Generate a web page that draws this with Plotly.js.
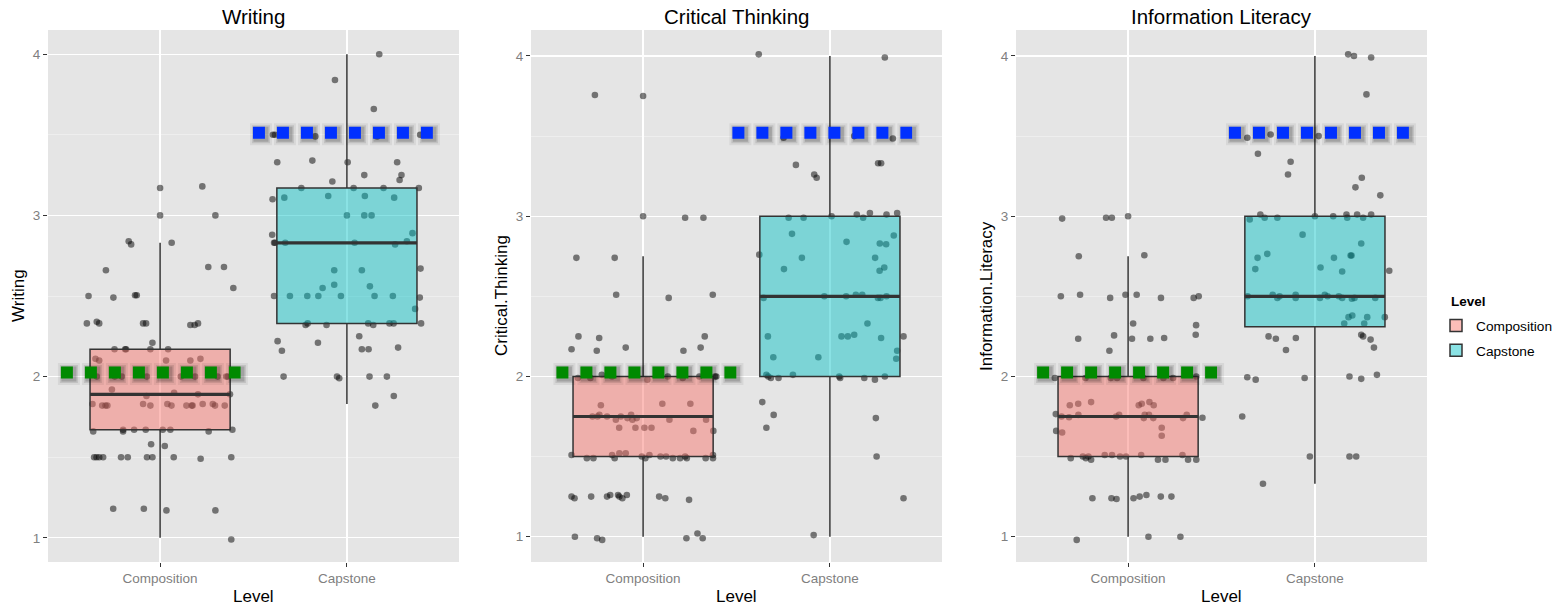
<!DOCTYPE html>
<html><head><meta charset="utf-8">
<script src="https://cdn.plot.ly/plotly-3.0.1.min.js"></script>
<style>html,body{margin:0;padding:0;background:#fff}#chart{width:1558px;height:606px}</style>
</head><body><div id="chart"></div>
<script>
// ---------- data ----------
const categories = ['Composition', 'Capstone'];
const catPos = [1, 2];
const panelTitles = ['Writing', 'Critical Thinking', 'Information Literacy'];
const yTitles = ['Writing', 'Critical.Thinking', 'Information.Literacy'];
const legendTitle = 'Level';
const xTitle = 'Level';

// box statistics per panel: [Composition, Capstone]
const boxQ1     = [[1.67, 2.33], [1.5, 2.0], [1.5, 2.31]];
const boxMedian = [[1.89, 2.83], [1.75, 2.5], [1.75, 2.5]];
const boxQ3     = [[2.17, 3.17], [2.0, 3.0], [2.0, 3.0]];
const boxLow    = [[1.0, 1.83], [1.0, 1.0], [1.0, 1.33]];
const boxHigh   = [[2.83, 4.0], [2.75, 4.0], [2.75, 4.0]];

// highlighted reference levels per panel
const greenLevel = [2.025, 2.024, 2.024];
const greenFrom  = [0.469, 0.536, 0.513];
const greenTo    = [1.431, 1.499, 1.476];
const blueLevel  = [3.512, 3.52, 3.52];
const blueFrom   = [1.497, 1.478, 1.54];
const blueTo     = [2.46, 2.44, 2.503];

// jittered observations (value, horizontal jitter)
const writingCompY = [3.17,3.18,3.0,3.0,2.84,2.82,2.83,2.66,2.68,2.68,2.55,2.5,2.49,2.505,2.505,2.33,2.34,2.33,2.33,2.33,2.32,2.32,2.33,2.21,2.17,2.17,2.17,2.17,2.17,2.11,2.1,2.1,2.1,2.11,2.0,2.0,2.0,2.0,2.0,2.0,2.0,2.0,2.0,1.92,1.9,1.89,1.88,1.89,1.83,1.82,1.82,1.82,1.83,1.82,1.83,1.82,1.82,1.82,1.82,1.83,1.83,1.82,1.82,1.66,1.67,1.66,1.67,1.67,1.67,1.67,1.66,1.67,1.58,1.57,1.5,1.5,1.5,1.5,1.5,1.5,1.5,1.5,1.5,1.49,1.5,1.18,1.18,1.17,1.17,0.99];
const writingCompJit = [0,0.226,0,0.296,-0.168,-0.155,0.062,-0.29,0.258,0.342,0.392,-0.383,-0.25,-0.134,-0.125,-0.392,-0.339,-0.326,-0.091,-0.075,0.162,0.185,0.203,-0.041,-0.244,-0.187,-0.182,-0.052,0.043,-0.346,-0.326,0.032,0.162,0.216,-0.339,-0.243,-0.205,-0.071,0.111,0.187,0.308,0.354,0.362,-0.258,0.075,0.203,-0.073,0.374,-0.362,-0.31,-0.292,-0.282,-0.091,-0.052,0.039,0.061,0.141,0.169,0.174,0.228,0.282,0.294,0.346,-0.358,-0.198,-0.198,-0.139,-0.077,0.014,0.055,0.26,0.387,-0.048,0.025,-0.353,-0.34,-0.326,-0.305,-0.209,-0.173,-0.07,-0.041,0.073,0.217,0.381,-0.251,-0.087,0.034,0.296,0.381];
const writingCapY = [4.0,3.84,3.66,3.5,3.5,3.49,3.49,3.5,3.33,3.34,3.33,3.33,3.25,3.25,3.21,3.22,3.17,3.17,3.17,3.17,3.1,3.11,3.12,3.12,3.11,3.0,3.0,3.0,2.88,2.89,2.83,2.83,2.83,2.83,2.82,2.84,2.66,2.66,2.67,2.55,2.57,2.56,2.5,2.5,2.5,2.5,2.5,2.5,2.5,2.49,2.42,2.32,2.33,2.32,2.33,2.32,2.33,2.33,2.33,2.25,2.22,2.21,2.16,2.17,2.17,2.18,2.0,2.0,1.99,2.0,2.0,1.88,1.82];
const writingCapJit = [0.173,-0.064,0.144,-0.396,-0.385,-0.169,0.162,0.392,-0.373,-0.185,0.004,0.269,0.093,0.292,-0.078,0.282,-0.244,0.036,0.196,0.385,-0.398,-0.335,-0.1,0.096,0.253,0,0.093,0.132,-0.4,0.351,-0.39,-0.385,-0.33,0.041,0.258,0.321,-0.068,0.08,0.394,-0.13,-0.068,0.123,-0.39,-0.305,-0.212,-0.153,-0.032,0.148,0.246,0.39,0.365,-0.221,-0.21,-0.109,0.114,0.141,0.228,0.25,0.397,0.066,-0.371,-0.155,-0.348,0.08,0.116,0.274,-0.339,-0.053,-0.041,0.121,0.214,0.251,0.152];

const criticalCompY = [3.756,3.75,3.0,2.99,2.99,2.74,2.74,2.51,2.49,2.51,2.25,2.24,2.25,2.17,2.16,2.18,2.16,2.18,1.99,1.99,2.01,2.0,1.98,2.0,1.99,2.0,2.0,2.0,1.82,1.83,1.83,1.75,1.75,1.76,1.75,1.73,1.75,1.74,1.76,1.73,1.74,1.73,1.73,1.68,1.68,1.68,1.68,1.66,1.66,1.51,1.49,1.49,1.51,1.49,1.52,1.52,1.5,1.49,1.51,1.5,1.5,1.49,1.49,1.5,1.49,1.49,1.49,1.51,1.25,1.24,1.25,1.25,1.26,1.26,1.25,1.24,1.26,1.25,1.24,1.23,1.0,0.99,0.98,0.99,1.02,0.99];
const criticalCompJit = [-0.258,0,0,0.225,0.323,-0.357,-0.152,-0.144,0.137,0.373,-0.346,-0.235,0.33,-0.383,-0.248,-0.093,0.216,0.308,-0.349,-0.282,-0.221,-0.166,0.023,0.132,0.212,0.301,0.385,0.392,-0.226,0.103,0.253,-0.271,-0.244,-0.234,-0.193,-0.146,-0.119,-0.084,-0.064,-0.057,-0.034,0.141,0.337,-0.128,-0.041,0.007,0.045,0.269,0.376,-0.383,-0.301,-0.266,-0.166,-0.152,-0.127,-0.093,-0.007,0.012,0.034,0.093,0.123,0.159,0.198,0.225,0.234,0.335,0.374,0.374,-0.383,-0.367,-0.278,-0.193,-0.176,-0.134,-0.127,-0.111,-0.087,0.086,0.119,0.246,-0.365,-0.246,-0.219,0.232,0.291,0.319];
const criticalCapY = [4.01,3.99,3.49,3.5,3.485,3.32,3.26,3.24,3.33,3.33,2.99,2.99,3.0,3.01,2.99,3.02,3.01,3.02,2.89,2.84,2.83,2.825,2.88,2.76,2.74,2.74,2.67,2.66,2.68,2.49,2.5,2.5,2.51,2.51,2.49,2.49,2.5,2.33,2.25,2.25,2.25,2.26,2.24,2.25,2.16,2.11,2.12,2.12,2.01,2.0,1.99,1.99,2.01,2.0,1.99,1.99,1.98,2.0,1.84,1.76,1.68,1.74,1.5,1.24,1.01];
const criticalCapJit = [-0.381,0.294,-0.248,0.13,0.337,-0.182,-0.084,-0.071,0.258,0.274,-0.221,-0.141,0.009,0.144,0.178,0.214,0.303,0.36,-0.203,0.089,0.267,0.301,0.342,-0.378,-0.15,0.242,-0.246,0.266,0.291,-0.355,-0.03,0.087,0.139,0.173,0.257,0.271,0.303,0.201,-0.332,0.062,0.096,0.13,0.274,0.394,0.36,0.355,-0.303,-0.062,-0.34,-0.33,-0.316,-0.275,-0.198,0.05,0.055,0.184,0.241,0.294,-0.362,-0.301,-0.34,0.246,0.25,0.394,-0.087];

const infoCompY = [2.985,2.99,2.99,3.0,2.75,2.756,2.5,2.51,2.49,2.51,2.51,2.49,2.49,2.5,2.33,2.32,2.26,2.235,2.256,2.235,2.235,2.24,2.16,1.99,1.99,1.99,1.99,1.99,1.99,1.99,2.0,1.82,1.83,1.84,1.82,1.83,1.84,1.82,1.765,1.75,1.745,1.76,1.75,1.76,1.74,1.76,1.76,1.74,1.74,1.76,1.742,1.68,1.63,1.66,1.65,1.49,1.5,1.49,1.5,1.48,1.51,1.51,1.5,1.5,1.51,1.48,1.48,1.51,1.48,1.48,1.24,1.24,1.235,1.24,1.25,1.26,1.25,1.25,0.98,1.0,1.0];
const infoCompJit = [-0.353,-0.118,-0.087,0,-0.264,0.087,-0.36,-0.257,-0.096,-0.014,0.046,0.176,0.351,0.378,0.027,0.364,0.362,-0.267,-0.075,0.021,0.119,0.193,-0.1,-0.392,-0.228,-0.093,-0.059,0.082,0.189,0.241,0.365,-0.312,-0.267,-0.198,0.057,0.073,0.114,0.137,-0.387,-0.356,-0.316,-0.266,-0.064,-0.048,0.084,0.089,0.112,0.135,0.294,0.314,0.398,0.18,0.18,-0.385,-0.353,-0.307,-0.242,-0.226,-0.212,-0.198,-0.125,-0.086,-0.043,-0.011,0.07,0.16,0.2,0.291,0.321,0.365,-0.191,-0.089,-0.062,0.029,0.062,0.098,0.175,0.232,-0.275,0.109,0.28];
const infoCapY = [4.01,4.0,3.99,3.76,3.49,3.51,3.5,3.39,3.34,3.26,3.24,3.18,3.13,2.98,3.01,2.99,2.99,3.0,3.0,3.01,2.99,3.01,2.99,3.01,2.885,2.83,2.74,2.765,2.74,2.755,2.755,2.67,2.68,2.655,2.66,2.5,2.51,2.49,2.5,2.51,2.49,2.49,2.51,2.5,2.5,2.49,2.485,2.49,2.49,2.33,2.37,2.38,2.33,2.37,2.37,2.25,2.235,2.24,2.165,2.26,2.25,2.23,2.18,1.995,1.98,1.99,2.0,1.985,2.01,1.75,1.5,1.5,1.5,1.33];
const infoCapJit = [0.178,0.209,0.301,0.276,-0.362,-0.237,0.02,-0.305,-0.13,-0.144,0.251,0.217,0.35,-0.349,-0.292,-0.269,-0.201,0,0.098,0.169,0.173,0.226,0.258,0.301,-0.066,0.248,-0.307,-0.255,0.102,0.191,0.196,-0.319,0.03,0.146,0.398,-0.36,-0.226,-0.201,-0.189,-0.103,-0.103,0.027,0.053,0.068,0.128,0.146,0.198,0.212,0.323,0.157,0.18,0.2,0.264,0.28,0.374,-0.248,-0.209,-0.102,-0.155,0.248,0.258,0.298,0.316,-0.362,-0.317,-0.055,0.185,0.248,0.332,-0.389,-0.027,0.185,0.221,-0.278];

// ---------- styling / layout ----------
const W = 1558, H = 606, TOP = 30, BOT = 562;
const FONT = 'Liberation Sans, Arial, Helvetica, sans-serif';
const boxFill = ['rgba(248,118,109,0.48)', 'rgba(0,191,196,0.46)'];
const keyFill = ['#F8766D', '#00BFC4'];
const xDomPx = [[48, 459], [531, 942], [1016, 1427]];
const xRange = [0.4, 2.6];
const yRanges = [[0.85, 4.15], [0.842, 4.162], [0.842, 4.162]];
const BOX_W = 0.75;
const points = [
  [[writingCompY, writingCompJit], [writingCapY, writingCapJit]],
  [[criticalCompY, criticalCompJit], [criticalCapY, criticalCapJit]],
  [[infoCompY, infoCompJit], [infoCapY, infoCapJit]]
];

const traces = [];
const layout = {
  width: W, height: H,
  margin: {l: 0, r: 0, t: 0, b: 0},
  paper_bgcolor: '#FFFFFF', plot_bgcolor: '#E5E5E5',
  font: {family: FONT, color: '#000'},
  showlegend: true,
  legend: {x: 1436 / W, xanchor: 'left', y: 1 - 310 / H, yanchor: 'top',
           font: {size: 13.7, family: FONT, color: '#000'}, bgcolor: 'rgba(0,0,0,0)',
           traceorder: 'grouped', tracegroupgap: 4, itemwidth: 30},
  annotations: [],
  hovermode: false
};

function dashLine(x0, x1, y, color, width, dash, xa, ya) {
  traces.push({type: 'scatter', mode: 'lines', x: [x0, x1], y: [y, y],
    xaxis: xa, yaxis: ya, showlegend: false, hoverinfo: 'skip',
    line: {color: color, width: width, dash: dash}});
}

for (let p = 0; p < 3; p++) {
  const sfx = p === 0 ? '' : String(p + 1);
  const xa = 'x' + sfx, ya = 'y' + sfx;
  const oxa = 'x' + (p + 4), oya = 'y' + (p + 4);
  const dom = [xDomPx[p][0] / W, xDomPx[p][1] / W];
  const yDom = [1 - BOT / H, 1 - TOP / H];
  const yr = yRanges[p];
  const xPerPx = (xRange[1] - xRange[0]) / (xDomPx[p][1] - xDomPx[p][0]);
  const yPerPx = (yr[1] - yr[0]) / (BOT - TOP);

  layout['xaxis' + sfx] = {domain: dom, range: xRange, anchor: ya,
    tickmode: 'array', tickvals: catPos, ticktext: categories,
    showgrid: true, gridcolor: '#FFFFFF', gridwidth: 1.2, zeroline: false, showline: false,
    ticks: 'outside', ticklen: 4, tickwidth: 1, tickcolor: '#333333',
    tickfont: {size: 13.5, color: '#7F7F7F', family: FONT}, fixedrange: true};
  layout['yaxis' + sfx] = {domain: yDom, range: yr, anchor: xa,
    tickmode: 'linear', tick0: 0, dtick: 1,
    showgrid: true, gridcolor: '#FFFFFF', gridwidth: 1.2, zeroline: false, showline: false,
    minor: {dtick: 0.5, tick0: 0.5, showgrid: true, gridcolor: '#F2F2F2', gridwidth: 0.7, ticks: ''},
    ticks: 'outside', ticklen: 4, tickwidth: 1, tickcolor: '#333333',
    tickfont: {size: 13.5, color: '#7F7F7F', family: FONT}, fixedrange: true};
  layout['xaxis' + (p + 4)] = {overlaying: xa, range: xRange, anchor: oya, visible: false, fixedrange: true};
  layout['yaxis' + (p + 4)] = {overlaying: ya, range: yr, anchor: oxa, visible: false, fixedrange: true};

  // jittered points (base layer)
  for (let g = 0; g < 2; g++) {
    const [vals, jit] = points[p][g];
    traces.push({type: 'scatter', mode: 'markers', xaxis: xa, yaxis: ya,
      x: jit.map(j => catPos[g] + j), y: vals, showlegend: false, hoverinfo: 'skip',
      marker: {size: 6.6, color: 'rgba(0,0,0,0.5)', line: {width: 0}}});
  }
  // boxes (overlay layer, on top of points)
  for (let g = 0; g < 2; g++) {
    traces.push({type: 'box', xaxis: oxa, yaxis: oya, name: categories[g],
      legendgroup: categories[g], showlegend: p === 0,
      x: [catPos[g]], q1: [boxQ1[p][g]], median: [boxMedian[p][g]], q3: [boxQ3[p][g]],
      lowerfence: [boxLow[p][g]], upperfence: [boxHigh[p][g]],
      width: BOX_W, whiskerwidth: 0, boxpoints: false,
      fillcolor: boxFill[g], line: {color: '#333333', width: 1.5}, hoverinfo: 'skip'});
  }
  // thicker medians
  for (let g = 0; g < 2; g++) {
    traces.push({type: 'scatter', mode: 'lines', xaxis: oxa, yaxis: oya, showlegend: false, hoverinfo: 'skip',
      x: [catPos[g] - BOX_W / 2, catPos[g] + BOX_W / 2], y: [boxMedian[p][g], boxMedian[p][g]],
      line: {color: '#333333', width: 3.2}});
  }
  // reference dotted levels with soft shadow
  const refs = [[greenFrom[p], greenTo[p], greenLevel[p], '#008A00'],
                [blueFrom[p], blueTo[p], blueLevel[p], '#0030FF']];
  const shadows = [[22, 0.06], [18, 0.10], [15, 0.16]];
  const dx = 2, dy = 1.5;
  for (const [x0, x1, y, col] of refs) {
    for (const [s, a] of shadows) {
      const sx0 = x0 + (6 + dx - s / 2) * xPerPx;
      const sx1 = sx0 + (168 + s) * xPerPx;
      dashLine(sx0, sx1, y - dy * yPerPx, 'rgba(0,0,0,' + a + ')', s, s + 'px,' + (24 - s) + 'px', oxa, oya);
    }
    dashLine(x0, x1, y, col, 12, '12px,12px', oxa, oya);
  }

  const cx = (xDomPx[p][0] + xDomPx[p][1]) / 2 / W;
  layout.annotations.push({text: panelTitles[p], xref: 'paper', yref: 'paper', x: cx, y: 1 - 17 / H,
    xanchor: 'center', yanchor: 'middle', showarrow: false, font: {size: 20.5, color: '#000', family: FONT}});
  layout.annotations.push({text: xTitle, xref: 'paper', yref: 'paper', x: cx, y: 1 - 596 / H,
    xanchor: 'center', yanchor: 'middle', showarrow: false, font: {size: 17, color: '#000', family: FONT}});
  layout.annotations.push({text: yTitles[p], xref: 'paper', yref: 'paper', x: (xDomPx[p][0] - 30) / W,
    y: 1 - (TOP + BOT) / 2 / H, xanchor: 'center', yanchor: 'middle', textangle: -90, showarrow: false,
    font: {size: 17, color: '#000', family: FONT}});
}
layout.annotations.push({text: '<b>' + legendTitle + '</b>', xref: 'paper', yref: 'paper', x: 1449 / W,
  y: 1 - 301 / H, xanchor: 'left', yanchor: 'middle', showarrow: false, font: {size: 13.5, color: '#000', family: FONT}});

Plotly.newPlot('chart', traces, layout, {displayModeBar: false, staticPlot: true}).then(gd => {
  const items = gd.querySelectorAll('.legend .traces');
  items.forEach((it, i) => {
    it.querySelectorAll('path.legendbox').forEach(pth => { pth.style.fill = keyFill[i % 2]; });
  });
});
</script></body></html>
